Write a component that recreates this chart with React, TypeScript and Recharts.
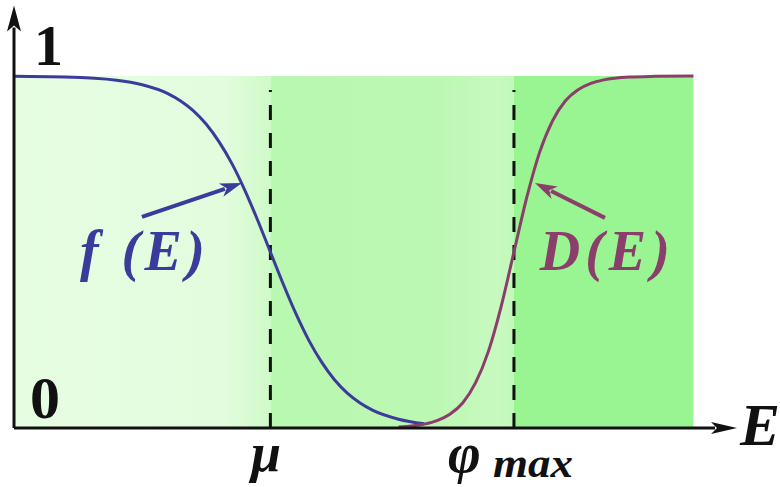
import React from "react"
import { ComposedChart, Line, XAxis, YAxis, ReferenceArea, ReferenceLine, ReferenceDot } from "recharts"

// energy grid shared by both curves
const energy = [
  0, 2, 4, 5, 6, 6.5, 7, 7.5, 8, 8.5, 9, 9.5, 10, 10.5, 11, 11.5, 12, 12.5, 13, 13.5,
  14, 15, 16, 16.5, 17, 17.5, 18, 18.5, 19, 19.5, 20, 20.5, 21, 21.5, 22, 22.5, 23, 24, 25, 26.5,
]

// occupation f(E), drops through 1/2 at mu
const fermi = [
  0.999, 0.997, 0.988, 0.975, 0.95, 0.929, 0.901, 0.863, 0.813, 0.751, 0.676, 0.591, 0.5, 0.409,
  0.324, 0.249, 0.187, 0.137, 0.099, 0.071, 0.05, 0.025, 0.012,
  null, null, null, null, null, null, null, null, null, null, null, null, null, null, null, null, null,
]

// transmission D(E), rises through 1/2 at phi_max
const transmission = [
  null, null, null, null, null, null, null, null, null, null, null, null, null, null,
  null, null, null, null, null, null, null, 0.003, 0.011, 0.021, 0.039, 0.071, 0.128, 0.217,
  0.345, 0.5, 0.655, 0.783, 0.872, 0.929, 0.961, 0.979, 0.989, 0.997, 0.999, 1.0,
]

const MU = 10
const PHI_MAX = 19.5
const BAND_END = 26.5
const AXIS_END = 28.2
const Y_TOP = 1.2

const data = energy.map((e, i) => ({ e, f: fermi[i], d: transmission[i] }))

const serif = "'Liberation Serif', 'Times New Roman', serif"
const blue = "#3b3b9b"
const purple = "#8b3d6b"

// line with a filled arrowhead at (x2, y2)
function Arrow(props: any) {
  const { x1, y1, x2, y2, stroke, strokeWidth, headLen = 26, headHalf = 7 } = props
  const dx = x2 - x1
  const dy = y2 - y1
  const len = Math.sqrt(dx * dx + dy * dy) || 1
  const ux = dx / len
  const uy = dy / len
  const bx = x2 - ux * headLen
  const by = y2 - uy * headLen
  const nx = -uy * headHalf
  const ny = ux * headHalf
  return (
    <g>
      <line x1={x1} y1={y1} x2={bx + ux * 4} y2={by + uy * 4} stroke={stroke} strokeWidth={strokeWidth} />
      <polygon points={`${x2},${y2} ${bx + nx},${by + ny} ${bx + ux * 6},${by + uy * 6} ${bx - nx},${by - ny}`} fill={stroke} />
    </g>
  )
}

// text anchored at a data point, drawn above the shaded bands
function textAt(label: string, style: any) {
  return (p: any) => (
    <text x={p.cx} y={p.cy} fontFamily={serif} fontWeight="bold" {...style}>{label}</text>
  )
}

export default function App() {
  return (
    <div style={{ position: "absolute", left: 0, top: 0 }}>
      <ComposedChart width={780} height={487} data={data} margin={{ top: 76, right: 43, bottom: 59, left: 14 }}>
        <defs>
          <linearGradient id="leftShade" x1="0" y1="0" x2="1" y2="0">
            <stop offset="0" stopColor="#e6fde2" />
            <stop offset="0.82" stopColor="#e3fcde" />
            <stop offset="1" stopColor="#cffac7" />
          </linearGradient>
          <linearGradient id="midShade" x1="0" y1="0" x2="1" y2="0">
            <stop offset="0" stopColor="#b9f8b0" />
            <stop offset="0.7" stopColor="#bcf8b4" />
            <stop offset="0.93" stopColor="#c8f9c0" />
            <stop offset="1" stopColor="#c2f8ba" />
          </linearGradient>
        </defs>
        <XAxis type="number" dataKey="e" domain={[0, AXIS_END]} hide />
        <YAxis type="number" domain={[0, 1]} hide />

        <ReferenceArea x1={0} x2={MU} y1={0} y2={1} fill="url(#leftShade)" fillOpacity={1} stroke="none" />
        <ReferenceArea x1={MU} x2={PHI_MAX} y1={0} y2={1} fill="url(#midShade)" fillOpacity={1} stroke="none" />
        <ReferenceArea x1={PHI_MAX} x2={BAND_END} y1={0} y2={1} fill="#99f591" fillOpacity={1} stroke="none" />

        <ReferenceLine segment={[{ x: MU, y: 0 }, { x: MU, y: 0.96 }]} stroke="#111" strokeWidth={3} strokeDasharray="15 13" ifOverflow="visible" />
        <ReferenceLine segment={[{ x: PHI_MAX, y: 0 }, { x: PHI_MAX, y: 0.96 }]} stroke="#111" strokeWidth={3} strokeDasharray="15 13" ifOverflow="visible" />

        <Line type="monotone" dataKey="f" stroke={blue} strokeWidth={3} dot={false} connectNulls={false} isAnimationActive={false} />
        <Line type="monotone" dataKey="d" stroke={purple} strokeWidth={3} dot={false} connectNulls={false} isAnimationActive={false} />

        {/* axes with arrowheads */}
        <ReferenceLine segment={[{ x: 0, y: 0 }, { x: AXIS_END, y: 0 }]} stroke="#111" strokeWidth={3} ifOverflow="visible"
          shape={(p: any) => <Arrow {...p} stroke="#111" strokeWidth={3} headLen={26} headHalf={6} />} />
        <ReferenceLine segment={[{ x: 0, y: 0 }, { x: 0, y: Y_TOP }]} stroke="#111" strokeWidth={3} ifOverflow="visible"
          shape={(p: any) => <Arrow {...p} stroke="#111" strokeWidth={3} headLen={26} headHalf={7} />} />

        {/* pointers to the curves */}
        <ReferenceLine segment={[{ x: 4.99, y: 0.6 }, { x: 8.89, y: 0.696 }]} ifOverflow="visible"
          shape={(p: any) => <Arrow {...p} stroke={blue} strokeWidth={4} headLen={22} headHalf={7} />} />
        <ReferenceLine segment={[{ x: 23.05, y: 0.597 }, { x: 20.32, y: 0.696 }]} ifOverflow="visible"
          shape={(p: any) => <Arrow {...p} stroke={purple} strokeWidth={4} headLen={22} headHalf={7} />} />

        <ReferenceDot x={0.62} y={0.028} ifOverflow="visible" shape={textAt("0", { fontSize: 60, fill: "#111" })} />
        <ReferenceDot x={2.57} y={0.449} ifOverflow="visible"
          shape={textAt("f (E)", { fontSize: 56, fill: blue, fontStyle: "italic", textLength: 125, lengthAdjust: "spacing" })} />
        <ReferenceDot x={20.51} y={0.449} ifOverflow="visible"
          shape={textAt("D(E)", { fontSize: 56, fill: purple, fontStyle: "italic", textLength: 130, lengthAdjust: "spacing" })} />

        <text x={34} y={65} fontFamily={serif} fontWeight="bold" fontSize={58} fill="#111">1</text>
        <text x={740} y={445} fontFamily={serif} fontWeight="bold" fontStyle="italic" fontSize={60} fill="#111">E</text>
        <text x={251} y={471} fontFamily={serif} fontWeight="bold" fontStyle="italic" fontSize={54} fill="#111">μ</text>
        <text x={448} y={472} fontFamily={serif} fontWeight="bold" fontStyle="italic" fontSize={56} fill="#111">φ</text>
        <text x={493} y={477} fontFamily={serif} fontWeight="bold" fontStyle="italic" fontSize={40}
          textLength={80} lengthAdjust="spacingAndGlyphs" fill="#111">max</text>
      </ComposedChart>
    </div>
  )
}
